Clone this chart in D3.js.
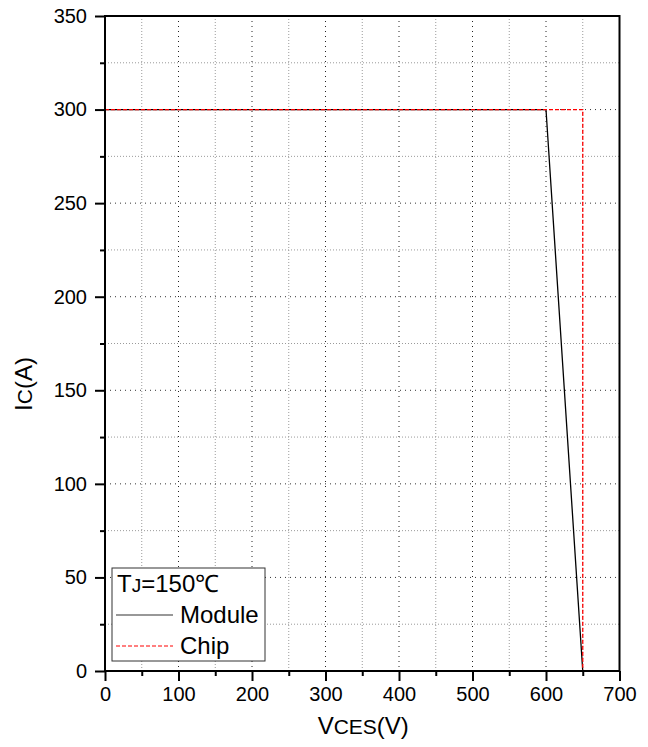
<!DOCTYPE html>
<html>
<head>
<meta charset="utf-8">
<script src="https://cdn.jsdelivr.net/npm/d3@7"></script>
<style>
  body { margin: 0; background: #fff; }
  text { font-family: "Liberation Sans", Arial, sans-serif; fill: #000; }
</style>
</head>
<body>
<div id="chart"></div>
<script>
// data
const xMajor = [0, 100, 200, 300, 400, 500, 600, 700];
const xMinor = [50, 150, 250, 350, 450, 550, 650];
const yMajor = [0, 50, 100, 150, 200, 250, 300, 350];
const yMinor = [25, 75, 125, 175, 225, 275, 325];

const moduleV = [0, 600, 650];
const moduleI = [300, 300, 0];
const chipV = [0, 650, 650];
const chipI = [300, 300, 0];

const width = 648;
const height = 747;
const margin = { top: 16, right: 28.5, bottom: 76, left: 105 };
const iw = width - margin.left - margin.right;
const ih = height - margin.top - margin.bottom;

const svg = d3.select('#chart').append('svg')
  .attr('width', width)
  .attr('height', height);

const g = svg.append('g').attr('transform', `translate(${margin.left},${margin.top})`);

const x = d3.scaleLinear().domain([0, 700]).range([0, iw]);
const y = d3.scaleLinear().domain([0, 350]).range([ih, 0]);

// grid
const grid = g.append('g').attr('class', 'grid');
grid.selectAll('line.vmin').data(xMinor).enter().append('line')
  .attr('x1', (d) => x(d)).attr('x2', (d) => x(d))
  .attr('y1', 0).attr('y2', ih)
  .attr('stroke', '#9a9a9a').attr('stroke-dasharray', '1,2');
grid.selectAll('line.vmaj').data(xMajor.slice(1, -1)).enter().append('line')
  .attr('x1', (d) => x(d)).attr('x2', (d) => x(d))
  .attr('y1', 0).attr('y2', ih)
  .attr('stroke', '#222').attr('stroke-dasharray', '1,4');
grid.selectAll('line.hmin').data(yMinor).enter().append('line')
  .attr('y1', (d) => y(d)).attr('y2', (d) => y(d))
  .attr('x1', 0).attr('x2', iw)
  .attr('stroke', '#9a9a9a').attr('stroke-dasharray', '1,2');
grid.selectAll('line.hmaj').data(yMajor.slice(1, -1)).enter().append('line')
  .attr('y1', (d) => y(d)).attr('y2', (d) => y(d))
  .attr('x1', 0).attr('x2', iw)
  .attr('stroke', '#333').attr('stroke-dasharray', '1,4');

// curves
const line = d3.line().x((d) => x(d[0])).y((d) => y(d[1]));

g.append('path')
  .datum(d3.zip(moduleV, moduleI))
  .attr('d', line)
  .attr('fill', 'none')
  .attr('stroke', '#000')
  .attr('stroke-width', 1.3);

g.append('path')
  .datum(d3.zip(chipV, chipI))
  .attr('d', line)
  .attr('fill', 'none')
  .attr('stroke', '#ff0000')
  .attr('stroke-width', 1.3)
  .attr('stroke-dasharray', '4,2');

// frame
g.append('rect')
  .attr('x', 0).attr('y', 0).attr('width', iw).attr('height', ih)
  .attr('fill', 'none').attr('stroke', '#000').attr('stroke-width', 2);

// axes
function styleAxis(sel) {
  sel.select('.domain').remove();
  sel.selectAll('.tick line').attr('stroke', '#000').attr('stroke-width', 2);
  sel.selectAll('.tick text')
    .style('font-family', '"Liberation Sans", Arial, sans-serif')
    .style('font-size', '20px')
    .attr('fill', '#000');
}

g.append('g').attr('transform', `translate(0,${ih})`)
  .call(d3.axisBottom(x).tickValues(xMinor).tickSize(5).tickFormat(''))
  .call(styleAxis);
g.append('g').attr('transform', `translate(0,${ih})`)
  .call(d3.axisBottom(x).tickValues(xMajor).tickSize(10).tickPadding(6).tickFormat(d3.format('d')))
  .call(styleAxis);

g.append('g')
  .call(d3.axisLeft(y).tickValues(yMinor).tickSize(5).tickFormat(''))
  .call(styleAxis);
g.append('g')
  .call(d3.axisLeft(y).tickValues(yMajor).tickSize(10).tickPadding(8).tickFormat(d3.format('d')))
  .call(styleAxis);

// axis titles
const xt = svg.append('text')
  .attr('x', margin.left + iw / 2 + 1)
  .attr('y', 734)
  .attr('text-anchor', 'middle')
  .style('font-size', '24px');
xt.append('tspan').text('V');
xt.append('tspan').style('font-size', '21px').text('CES');
xt.append('tspan').text('(V)');

const yt = svg.append('text')
  .attr('transform', `translate(32,${margin.top + 368}) rotate(-90)`)
  .attr('text-anchor', 'middle')
  .style('font-size', '24px');
yt.append('tspan').text('I');
yt.append('tspan').style('font-size', '21px').text('C');
yt.append('tspan').text('(A)');

// legend
const legend = svg.append('g').attr('transform', 'translate(112,568)');
legend.append('rect')
  .attr('width', 153).attr('height', 93)
  .attr('fill', '#fff').attr('stroke', '#333').attr('stroke-width', 1);

const tj = legend.append('text').attr('x', 5).attr('y', 24).style('font-size', '24px');
tj.append('tspan').text('T');
tj.append('tspan').style('font-size', '19px').text('J');
tj.append('tspan').text('=150\u2103');

const items = [
  { name: 'Module', color: '#333', dash: null },
  { name: 'Chip', color: '#ff0000', dash: '4,2' },
];
const rows = legend.selectAll('g.item').data(items).enter().append('g')
  .attr('transform', (d, i) => `translate(0,${47 + i * 31})`);
rows.append('line')
  .attr('x1', 4).attr('x2', 61).attr('y1', 0).attr('y2', 0)
  .attr('stroke', (d) => d.color)
  .attr('stroke-width', 1.2)
  .attr('stroke-dasharray', (d) => d.dash);
rows.append('text')
  .attr('x', 68).attr('y', 8)
  .style('font-size', '24px')
  .text((d) => d.name);
</script>
</body>
</html>
